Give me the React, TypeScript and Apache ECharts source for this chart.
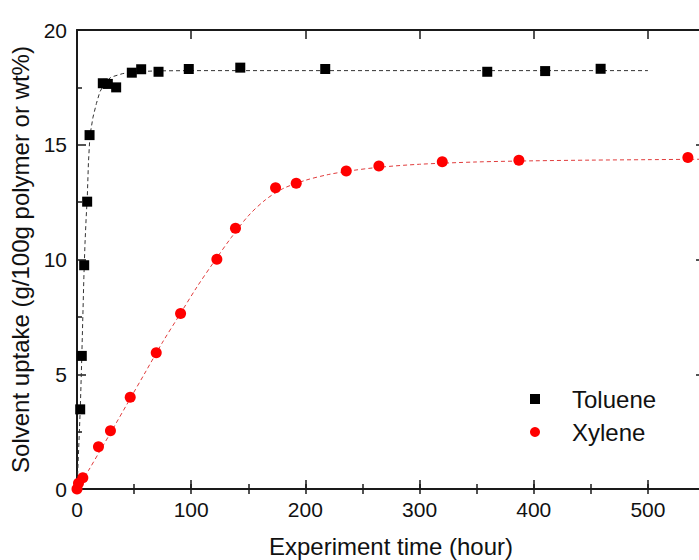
import React, { useEffect, useRef } from "react";
import * as echarts from "echarts";

const tolueneTime = [2.8, 4.2, 6.3, 8.9, 11, 22.6, 27, 34.3, 48, 56.2, 71.4, 97.9, 143, 217.4, 359.3, 410, 458.6];
const tolueneUptake = [3.47, 5.8, 9.75, 12.52, 15.42, 17.68, 17.65, 17.5, 18.14, 18.29, 18.18, 18.3, 18.36, 18.3, 18.18, 18.21, 18.31];

const xyleneTime = [0, 1.3, 5.1, 18.8, 29.3, 46.6, 69.4, 90.7, 122.5, 138.8, 173.9, 192, 235.8, 264.4, 319.9, 387, 535];
const xyleneUptake = [0, 0.25, 0.49, 1.84, 2.54, 4.0, 5.94, 7.65, 10.01, 11.36, 13.13, 13.32, 13.86, 14.07, 14.26, 14.32, 14.44];

// Fitted curves (dashed)
const tolueneFitTime = [0, 1, 2, 3, 4, 5, 6, 7, 8, 9, 10, 11, 12, 14, 17, 20, 25, 30, 40, 50, 70, 100, 200, 300, 400, 500];
const tolueneFitUptake = [0, 1.2, 2.4, 3.7, 5.4, 7.3, 9.2, 10.7, 11.8, 12.7, 14.2, 15.1, 15.6, 16.2, 16.8, 17.3, 17.75, 17.95, 18.1, 18.18, 18.22, 18.23, 18.23, 18.23, 18.23, 18.23];

const xyleneFitTime = [0, 10, 20, 30, 45, 60, 75, 90, 105, 120, 135, 150, 165, 180, 200, 220, 240, 265, 300, 350, 400, 450, 500, 550];
const xyleneFitUptake = [0, 0.8, 1.65, 2.5, 3.8, 5.1, 6.4, 7.6, 8.8, 9.9, 10.95, 11.9, 12.6, 13.08, 13.45, 13.7, 13.87, 14.02, 14.15, 14.25, 14.3, 14.33, 14.35, 14.37];

const xTickLabels = ["0", "100", "200", "300", "400", "500"];
const yTickLabels = ["0", "5", "10", "15", "20"];

const seriesNames = ["Toluene", "Xylene"];

const FONT = "'Liberation Sans', Arial, Helvetica, sans-serif";

const zip = (a: number[], b: number[]) => a.map((v, i) => [v, b[i]]);

export default function App() {
  const ref = useRef<HTMLDivElement>(null);

  useEffect(() => {
    if (!ref.current) return;
    const chart = echarts.init(ref.current, null, { renderer: "svg" });

    const lineColor = "#1a1a1a";
    const majorX = {
      type: "value" as const,
      min: 0,
      max: 550,
      interval: 100,
      splitLine: { show: false },
      axisLine: { show: true, onZero: false, lineStyle: { color: lineColor, width: 2 } },
      axisTick: { show: true, inside: true, length: 9, lineStyle: { color: lineColor, width: 1.5 } },
    };
    const minorX = {
      type: "value" as const,
      min: 0,
      max: 550,
      interval: 50,
      splitLine: { show: false },
      axisLine: { show: false },
      axisLabel: { show: false },
      axisTick: { show: true, inside: true, length: 5, lineStyle: { color: lineColor, width: 1.5 } },
    };
    const yBase = {
      type: "value" as const,
      min: 0,
      max: 20,
      interval: 5,
      splitLine: { show: false },
      axisLine: { show: true, onZero: false, lineStyle: { color: lineColor, width: 2 } },
      axisTick: { show: true, inside: true, length: 9, lineStyle: { color: lineColor, width: 1.5 } },
      minorTick: { show: true, splitNumber: 2, length: 5, lineStyle: { color: lineColor, width: 1.5 } },
    };

    chart.setOption({
      animation: false,
      backgroundColor: "#ffffff",
      grid: { left: 77, top: 30, right: -6, bottom: 71, containLabel: false, outerBoundsMode: "none" },
      legend: {
        data: seriesNames,
        orient: "vertical",
        left: 525,
        top: 382,
        itemWidth: 10,
        itemHeight: 10,
        itemGap: 9,
        textStyle: { fontSize: 24, fontFamily: FONT, color: "#111", padding: [0, 0, 0, 27] },
      },
      xAxis: [
        {
          ...majorX,
          position: "bottom",
          name: "Experiment time (hour)",
          nameLocation: "middle",
          nameGap: 45,
          nameTextStyle: { fontSize: 24, fontFamily: FONT, color: "#111" },
          axisLabel: {
            show: true,
            margin: 10,
            fontSize: 21,
            fontFamily: FONT,
            color: "#111",
            showMaxLabel: false,
            formatter: (v: number) => {
              const s = String(v);
              return xTickLabels.includes(s) ? s : "";
            },
          },
        },
        { ...minorX, position: "bottom" },
        { ...majorX, position: "top", axisLabel: { show: false } },
        { ...minorX, position: "top" },
      ],
      yAxis: [
        {
          ...yBase,
          position: "left",
          name: "Solvent uptake (g/100g polymer or wt%)",
          nameLocation: "middle",
          nameRotate: 90,
          nameGap: 41,
          nameTextStyle: { fontSize: 24, fontFamily: FONT, color: "#111" },
          axisLabel: {
            show: true,
            margin: 10,
            fontSize: 21,
            fontFamily: FONT,
            color: "#111",
            formatter: (v: number) => {
              const s = String(v);
              return yTickLabels.includes(s) ? s : "";
            },
          },
        },
        { ...yBase, position: "right", axisLabel: { show: false } },
      ],
      series: [
        {
          name: "Toluene fit",
          type: "line",
          xAxisIndex: 0,
          yAxisIndex: 0,
          data: zip(tolueneFitTime, tolueneFitUptake),
          symbol: "none",
          silent: true,
          z: 1,
          lineStyle: { color: "#333333", width: 1, type: [4, 3] },
        },
        {
          name: "Xylene fit",
          type: "line",
          xAxisIndex: 0,
          yAxisIndex: 0,
          data: zip(xyleneFitTime, xyleneFitUptake),
          symbol: "none",
          smooth: 0.3,
          silent: true,
          z: 1,
          lineStyle: { color: "#e03c3c", width: 1, type: [4, 3] },
        },
        {
          name: seriesNames[0],
          type: "scatter",
          xAxisIndex: 0,
          yAxisIndex: 0,
          data: zip(tolueneTime, tolueneUptake),
          symbol: "rect",
          symbolSize: 10,
          z: 3,
          itemStyle: { color: "#000000", opacity: 1 },
        },
        {
          name: seriesNames[1],
          type: "scatter",
          xAxisIndex: 0,
          yAxisIndex: 0,
          data: zip(xyleneTime, xyleneUptake),
          symbol: "circle",
          symbolSize: 11,
          z: 3,
          itemStyle: { color: "#ff0000", opacity: 1 },
        },
      ],
    });

    return () => chart.dispose();
  }, []);

  return (
    <div
      ref={ref}
      style={{ position: "fixed", left: 0, top: 0, width: 699, height: 560, background: "#fff" }}
    />
  );
}
